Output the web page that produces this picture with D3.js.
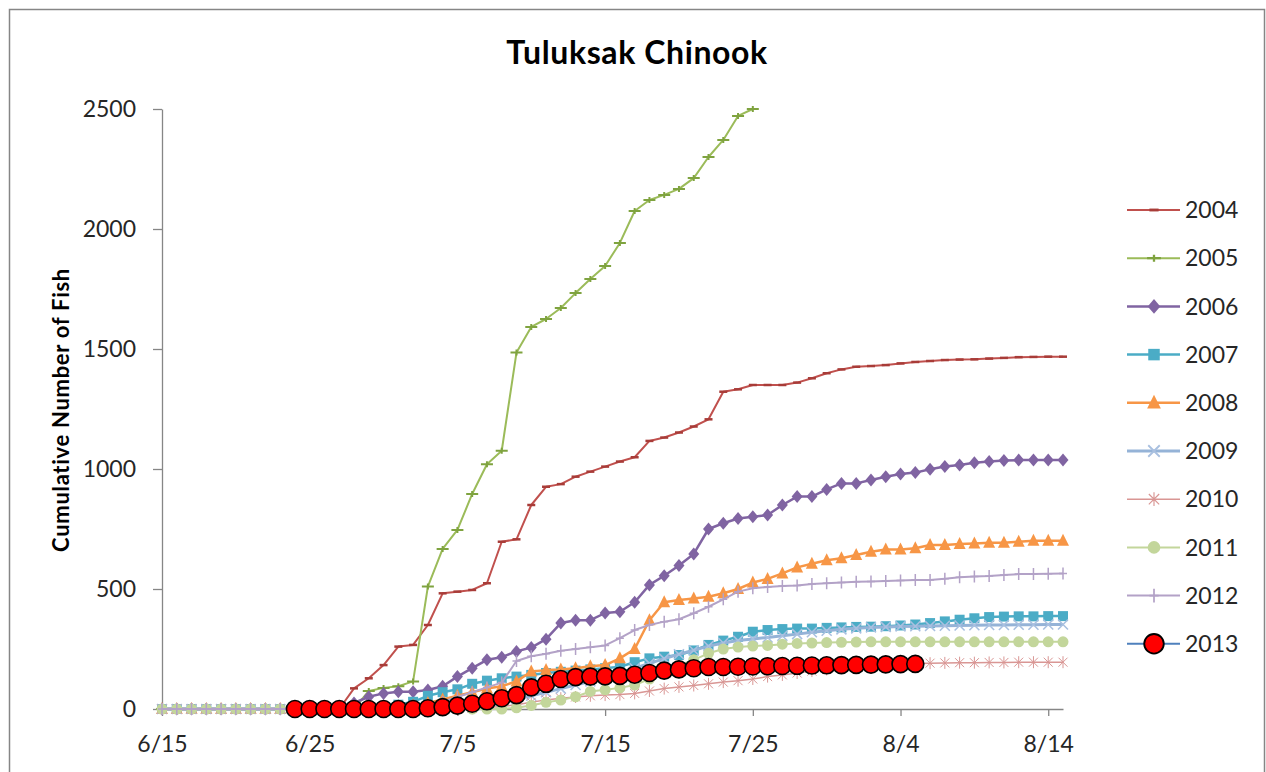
<!DOCTYPE html>
<html><head><meta charset="utf-8">
<script src="https://cdn.jsdelivr.net/npm/d3@7"></script>
<style>body{margin:0;background:#fff} svg{display:block} text{font-family:Lato,'Open Sans',sans-serif;fill:#262626}</style>
</head><body><svg id="c" width="1266" height="772"></svg>
<script>
// ---- data (index = days since 6/15) ----
const tickDays = [0,10,20,30,40,50,60];
const tickLabels = ["6/15","6/25","7/5","7/15","7/25","8/4","8/14"];
const yTicks = [0,500,1000,1500,2000,2500];
const years = ["2004","2005","2006","2007","2008","2009","2010","2011","2012","2013"];

const s2004 = [0,0,0,0,0,0,0,0,0,0, 0,0,0,86,128,183,260,267,350,482, 489,496,524,697,707,850,926,937,968,989,
  1010,1031,1049,1117,1131,1152,1177,1207,1322,1332, 1350,1350,1350,1360,1378,1399,1415,1426,1429,1433,
  1440,1446,1450,1454,1456,1457,1460,1463,1466,1467, 1468,1468];
const s2005 = [0,0,0,0,0,0,0,0,0,0, 0,0,0,0,75,88,95,115,510,667, 746,896,1020,1076,1485,1592,1625,1671,1733,1792,
  1846,1942,2075,2121,2142,2167,2212,2300,2371,2471, 2500,null,null,null,null,null,null,null,null,null,
  null,null,null,null,null,null,null,null,null,null, null,null];
const s2006 = [0,0,0,0,0,0,0,0,0,0, 0,0,0,25,51,65,72,72,79,95, 135,170,205,216,240,256,291,358,370,370,
  400,405,445,517,555,598,646,750,774,794, 801,808,850,885,885,915,940,940,954,968,
  979,985,999,1010,1017,1026,1031,1035,1037,1037, 1037,1037];
const s2007 = [0,0,0,0,0,0,0,0,0,0, 0,0,0,0,5,10,18,30,55,70, 82,105,118,128,135,142,150,155,160,165,
  170,176,195,211,218,225,244,267,285,301, 322,329,333,335,335,338,340,342,343,345,
  348,352,358,365,372,378,383,385,386,386, 387,387];
const s2008 = [0,0,0,0,0,0,0,0,0,0, 0,0,0,0,0,5,10,15,25,40, 55,70,85,95,115,156,162,165,170,178,
  183,211,250,370,445,454,460,468,482,500, 527,542,565,590,605,620,628,642,655,665,
  665,670,683,683,688,690,693,693,697,701, 701,701];
const s2009 = [0,0,0,0,0,0,0,0,0,0, 0,0,0,0,0,0,0,0,0,0, 3,8,15,25,40,55,70,85,100,115,
  130,150,170,190,210,228,245,262,275,285, 292,298,305,312,320,326,332,336,340,342,
  344,345,346,347,348,349,350,350,351,351, 352,352];
const s2010 = [0,0,0,0,0,0,0,0,0,0, 0,0,0,0,0,0,0,0,0,0, 0,3,6,10,18,28,38,45,50,55,
  58,60,65,75,85,92,98,105,112,118, 125,135,142,150,158,165,172,178,182,185,
  188,190,191,192,193,193,194,194,195,195, 195,195];
const s2011 = [0,0,0,0,0,0,0,0,0,0, 0,0,0,0,0,0,0,0,0,0, 0,0,0,0,5,15,28,37,51,73,
  80,88,100,125,155,180,205,232,250,258, 262,265,270,273,275,277,278,279,280,280,
  280,280,280,280,280,280,280,280,280,280, 280,280];
const s2012 = [0,0,0,0,0,0,0,0,0,0, 0,0,0,0,0,0,0,5,15,30, 50,70,90,110,200,220,230,243,250,257,
  265,295,329,350,364,374,399,426,457,489, 503,508,512,515,521,524,527,530,531,533,
  535,537,538,543,549,552,554,558,562,563, 564,565];
const s2013 = [null,null,null,null,null,null,null,null,null,0, 0,0,0,0,0,0,0,0,3,8, 14,22,32,45,58,90,105,125,133,135,
  136,138,143,150,160,165,170,175,175,176, 177,178,179,180,181,182,183,184,185,186,
  187,188,null,null,null,null,null,null,null,null, null,null];
const seriesValues = [s2004,s2005,s2006,s2007,s2008,s2009,s2010,s2011,s2012,s2013];

// ---- styles ----
const styles = [
  {color:"#C0504D", w:2,   marker:"dash"},
  {color:"#9BBB59", w:2,   marker:"wideplus"},
  {color:"#8064A2", w:2.5, marker:"diamond"},
  {color:"#4BACC6", w:2.5, marker:"square"},
  {color:"#F79646", w:2.5, marker:"triangle"},
  {color:"#95B3D7", w:3,   marker:"x"},
  {color:"#D99694", w:1.5, marker:"star"},
  {color:"#C3D69B", w:2,   marker:"circle"},
  {color:"#B3A2C7", w:2,   marker:"plus"},
  {color:"#4F81BD", w:2,   marker:"bigcircle"}
];

const svg = d3.select("#c");
svg.append("rect").attr("x",9.5).attr("y",9.5).attr("width",1255).attr("height",800)
  .attr("fill","#fff").attr("stroke","#868686").attr("stroke-width",1.5);

const x = d3.scaleLinear().domain([0,61]).range([162,1063]);
const y = d3.scaleLinear().domain([0,2500]).range([709,109]);

// title
svg.append("text").attr("x",637).attr("y",64).attr("text-anchor","middle")
  .style("font-size","32px").style("font-weight","bold").style("letter-spacing","0.6px")
  .style("fill","#000").text("Tuluksak Chinook");
// y title
svg.append("text").attr("transform","translate(69,410) rotate(-90)").attr("text-anchor","middle")
  .style("font-size","22px").style("font-weight","bold").style("letter-spacing","0.7px")
  .style("fill","#000").text("Cumulative Number of Fish");

// axes
const yAxis = svg.append("g").attr("transform","translate(162,0)")
  .call(d3.axisLeft(y).tickValues(yTicks).tickFormat(d3.format("d")).tickSize(9).tickSizeOuter(0).tickPadding(17));
const xAxis = svg.append("g").attr("transform","translate(0,709)")
  .call(d3.axisBottom(x).tickValues(tickDays).tickFormat((d,i)=>tickLabels[i]).tickSize(7).tickSizeOuter(0).tickPadding(19.5));
[yAxis,xAxis].forEach(g=>{
  g.selectAll("path,line").attr("stroke","#868686").attr("stroke-width",1.3);
  g.selectAll("text").style("font-size","23px").style("fill","#262626").style("font-family","Lato,'Open Sans',sans-serif");
});

function drawMarker(g, type, color, cx, cy, legend){
  const s = legend ? 1.15 : 1;
  const m = g.append("g").attr("transform",`translate(${cx},${cy}) scale(${s})`);
  switch(type){
    case "dash":
      m.append("path").attr("d","M-4,0H4").attr("stroke","#A83C38").attr("stroke-width",2.5); break;
    case "wideplus":
      m.append("path").attr("d","M-6,0H6M0,-3V3").attr("stroke","#7FA33F").attr("stroke-width",2); break;
    case "diamond":
      m.append("path").attr("d","M0,-6.5L5.5,0L0,6.5L-5.5,0Z").attr("fill",color); break;
    case "square":
      m.append("rect").attr("x",-5).attr("y",-5).attr("width",10).attr("height",10).attr("fill",color); break;
    case "triangle":
      m.append("path").attr("d","M0,-7L6,5L-6,5Z").attr("fill",color); break;
    case "x":
      m.append("path").attr("d","M-5,-5L5,5M-5,5L5,-5").attr("stroke","#A9C0E0").attr("stroke-width",1.6).attr("fill","none"); break;
    case "star":
      m.append("path").attr("d","M-4.5,-4.5L4.5,4.5M-4.5,4.5L4.5,-4.5M0,-6V6").attr("stroke",color).attr("stroke-width",1).attr("fill","none"); break;
    case "circle":
      m.append("circle").attr("r",5.5).attr("fill",color); break;
    case "plus":
      m.append("path").attr("d","M0,-6V6M-4,0H4").attr("stroke",color).attr("stroke-width",1.5).attr("fill","none"); break;
    case "bigcircle":
      m.append("circle").attr("r",8.5).attr("fill","#FF0000").attr("stroke","#000").attr("stroke-width",1.6); break;
  }
}

const line = d3.line().defined(d=>d.v!=null).x(d=>x(d.d)).y(d=>y(d.v));
const plot = svg.append("g");
seriesValues.forEach((vals,i)=>{
  const st = styles[i];
  const pts = vals.map((v,d)=>({d,v}));
  const g = plot.append("g");
  g.append("path").datum(pts).attr("d",line).attr("fill","none")
    .attr("stroke",st.color).attr("stroke-width",st.w).attr("stroke-linejoin","round");
  pts.filter(p=>p.v!=null).forEach(p=>drawMarker(g, st.marker, st.color, x(p.d), y(p.v), false));
});

// legend
const leg = svg.append("g");
years.forEach((yr,i)=>{
  const cy = 210 + i*48.2;
  const st = styles[i];
  leg.append("line").attr("x1",1127).attr("x2",1180).attr("y1",cy).attr("y2",cy)
    .attr("stroke",st.color).attr("stroke-width",st.w);
  drawMarker(leg, st.marker, st.color, 1154, cy, true);
  leg.append("text").attr("x",1185).attr("y",cy).attr("dy","0.36em")
    .style("font-size","23px").text(yr);
});
</script></body></html>
